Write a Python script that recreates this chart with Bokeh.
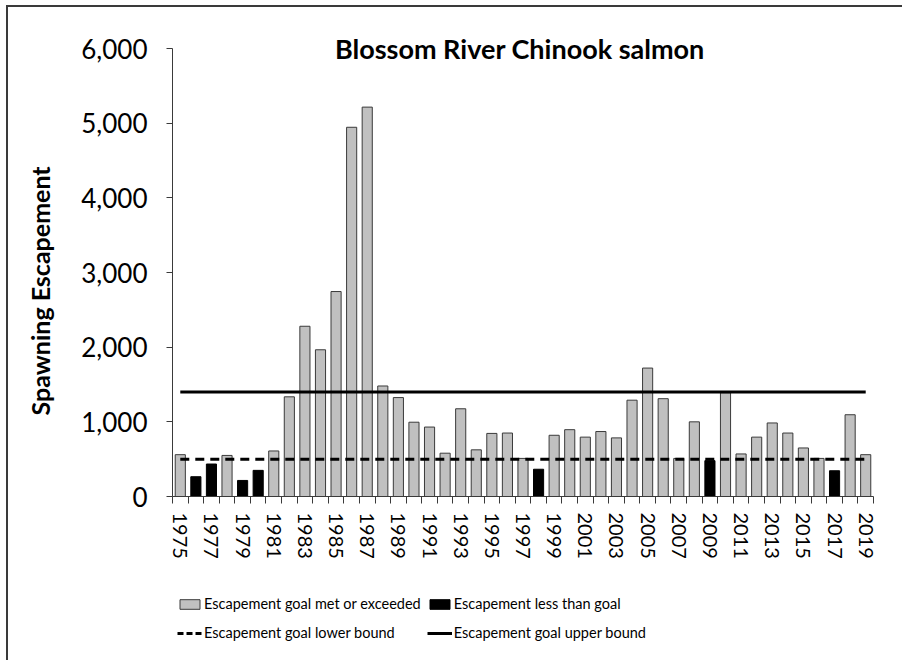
from bokeh.plotting import figure
from bokeh.layouts import column
from bokeh.models import (Range1d, FixedTicker, NumeralTickFormatter, Legend, LegendItem,
                          Label, ColumnDataSource)
from bokeh.embed import file_html
from bokeh.resources import INLINE

# ---- data ----
years = list(range(1975, 2020))
escapement = [560, 265, 435, 550, 215, 350, 610, 1335, 2280, 1965,
              2745, 4945, 5215, 1480, 1325, 995, 930, 580, 1175, 625,
              845, 850, 510, 365, 820, 895, 795, 870, 785, 1290,
              1720, 1310, 510, 1000, 480, 1390, 570, 795, 985, 850,
              650, 510, 345, 1095, 560]
goal_lower = 500
goal_upper = 1400
y_ticks = [0, 1000, 2000, 3000, 4000, 5000, 6000]
y_max_tick = 6000
label_years = [y for y in years if y % 2 == 1]

title_text = "Blossom River Chinook salmon"
y_title = "Spawning Escapement"
legend_labels = ["Escapement goal met or exceeded", "Escapement less than goal",
                 "Escapement goal lower bound", "Escapement goal upper bound"]

met_x = [y for y, v in zip(years, escapement) if v >= goal_lower]
met_v = [v for v in escapement if v >= goal_lower]
less_x = [y for y, v in zip(years, escapement) if v < goal_lower]
less_v = [v for v in escapement if v < goal_lower]

FONT = "Lato"
GRAY = "#C0C0C0"
EDGE = "#3a3a3a"

# layout: frame 448 px tall for 0..6000, extra head room for the title
px_per_unit = 448 / y_max_tick
head_room = 30 / px_per_unit

p = figure(width=894, height=561, output_backend="svg", toolbar_location=None,
           x_range=Range1d(years[0] - 0.5, years[-1] + 0.5),
           y_range=Range1d(0, y_max_tick + head_room),
           min_border_left=164, min_border_right=29, min_border_top=11,
           min_border_bottom=72)
p.background_fill_color = "white"
p.border_fill_color = "white"
p.outline_line_color = None
p.xgrid.visible = False
p.ygrid.visible = False

src_met = ColumnDataSource(dict(x=met_x, top=met_v))
src_less = ColumnDataSource(dict(x=less_x, top=less_v))
src_low = ColumnDataSource(dict(x=years, y=[goal_lower] * len(years)))
src_up = ColumnDataSource(dict(x=years, y=[goal_upper] * len(years)))

p.vbar(x="x", top="top", width=0.65, bottom=0, source=src_met,
       fill_color=GRAY, line_color=EDGE, line_width=1)
p.vbar(x="x", top="top", width=0.65, bottom=0, source=src_less,
       fill_color="#000000", line_color="#000000", line_width=1)
p.line(x="x", y="y", source=src_low, line_color="black", line_width=3, line_dash="9 6")
p.line(x="x", y="y", source=src_up, line_color="black", line_width=3)

# x axis
xa = p.xaxis[0]
xa.ticker = FixedTicker(ticks=label_years,
                        minor_ticks=[y - 0.5 for y in years] + [years[-1] + 0.5])
xa.major_tick_line_color = None
xa.major_tick_out = 0
xa.major_tick_in = 0
xa.minor_tick_line_color = EDGE
xa.minor_tick_out = 7
xa.minor_tick_in = 0
xa.major_label_orientation = "vertical"
xa.major_label_standoff = 9
xa.major_label_text_font = FONT
xa.major_label_text_font_size = "20px"
xa.major_label_text_color = "black"
xa.axis_line_color = EDGE

# y axis
ya = p.yaxis[0]
ya.ticker = FixedTicker(ticks=y_ticks)
ya.bounds = (0, y_max_tick)
ya.formatter = NumeralTickFormatter(format="0,0")
ya.minor_tick_line_color = None
ya.major_tick_out = 6
ya.major_tick_in = 0
ya.major_tick_line_color = EDGE
ya.axis_line_color = EDGE
ya.major_label_standoff = 19
ya.major_label_text_font = FONT
ya.major_label_text_font_size = "26px"
ya.major_label_text_color = "black"
# trailing no-break spaces nudge the rotated title down, as in the reference
ya.axis_label = y_title + "\u00a0" * 11
ya.axis_label_text_font = FONT
ya.axis_label_text_font_style = "bold"
ya.axis_label_text_font_size = "25px"
ya.axis_label_text_color = "black"
ya.axis_label_standoff = 23

# title inside plot area
p.add_layout(Label(x=1996.8, y=y_max_tick, text=title_text, text_align="center",
                   text_baseline="middle", text_font=FONT, text_font_style="bold",
                   text_font_size="27px", text_color="black"))

# legend figure: same sources, its y range keeps the marks below its view
p2 = figure(width=894, height=92, output_backend="svg", toolbar_location=None,
            x_axis_type=None, y_axis_type=None,
            x_range=Range1d(years[0] - 0.5, years[-1] + 0.5),
            y_range=Range1d(y_max_tick * 4, y_max_tick * 5),
            min_border=0, min_border_left=0, min_border_right=0,
            min_border_top=0, min_border_bottom=0)
p2.outline_line_color = None
p2.xgrid.visible = False
p2.ygrid.visible = False
g_met = p2.vbar(x="x", top="top", width=0.65, bottom=0, source=src_met,
                fill_color=GRAY, line_color=EDGE, line_width=1)
g_less = p2.vbar(x="x", top="top", width=0.65, bottom=0, source=src_less,
                 fill_color="#000000", line_color="#000000", line_width=1)
g_low = p2.line(x="x", y="y", source=src_low, line_color="black", line_width=3,
                line_dash="6 3")
g_up = p2.line(x="x", y="y", source=src_up, line_color="black", line_width=3)

legend = Legend(items=[
    LegendItem(label=legend_labels[0], renderers=[g_met]),
    LegendItem(label=legend_labels[1], renderers=[g_less]),
    LegendItem(label=legend_labels[2], renderers=[g_low]),
    LegendItem(label=legend_labels[3], renderers=[g_up]),
], orientation="horizontal", ncols=2, location=(5, 16), margin=0, padding=0,
    spacing=6, glyph_width=25, glyph_height=12, label_height=23,
    label_standoff=2, label_text_font=FONT, label_text_font_size="14.5px",
    label_text_color="black", border_line_color=None, background_fill_alpha=0)
p2.add_layout(legend)

layout = column(p, p2, spacing=0,
                styles={"border-left": "2px solid #3a3a3a", "border-top": "2px solid #3a3a3a",
                        "margin-left": "6px", "margin-top": "5px"})

open("out.html", "w").write(file_html(layout, INLINE))
